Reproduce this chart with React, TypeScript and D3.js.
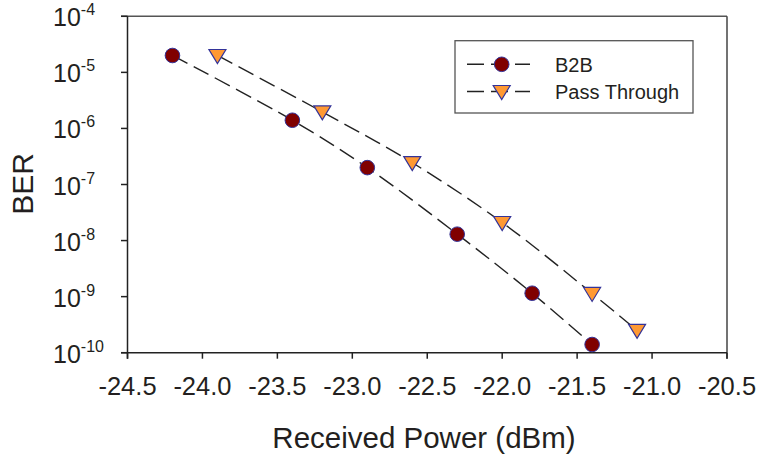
import React from "react";
import * as d3 from "d3";

const b2bX = [-24.2, -23.4, -22.9, -22.3, -21.8, -21.4];
const b2bY = [2e-5, 1.4e-6, 2e-7, 1.3e-8, 1.15e-9, 1.4e-10];
const passX = [-23.9, -23.2, -22.6, -22.0, -21.4, -21.1];
const passY = [2e-5, 1.97e-6, 2.45e-7, 2.1e-8, 1.14e-9, 2.5e-10];
const xTicks = [-24.5, -24.0, -23.5, -23.0, -22.5, -22.0, -21.5, -21.0, -20.5];
const yExps = [-4, -5, -6, -7, -8, -9, -10];
const seriesNames = ["B2B", "Pass Through"];

const W = 759, H = 455;
const L = 127.5, R = 727, T = 16.3, B = 352.7;
const FONT = "'Liberation Sans', Arial, sans-serif";
const TXT = "#231f20";

export default function App() {
  const x = d3.scaleLinear().domain([-24.5, -20.5]).range([L, R]);
  const y = d3.scaleLog().domain([1e-10, 1e-4]).range([B, T]);
  const line = d3
    .line<[number, number]>()
    .x((d) => x(d[0]))
    .y((d) => y(d[1]))
    .curve(d3.curveCatmullRom.alpha(0.5));
  const b2b: [number, number][] = b2bX.map((v, i) => [v, b2bY[i]]);
  const pass: [number, number][] = passX.map((v, i) => [v, passY[i]]);
  const tri = (cx: number, cy: number, w = 17, h = 14) =>
    `M${cx - w / 2},${cy - h / 2 + 1}L${cx + w / 2},${cy - h / 2 + 1}L${cx},${cy + h / 2 + 1}Z`;
  const dash = "17,7";
  const fmt = (t: number) => t.toFixed(1);

  return (
    <svg
      width={W}
      height={H}
      style={{ position: "absolute", left: 0, top: 0, background: "#fff" }}
      fontFamily={FONT}
    >
      {/* frame */}
      <line x1={121} x2={R} y1={T} y2={T} stroke="#555" strokeWidth={1.5} />
      <line x1={R} x2={R} y1={T} y2={B + 6} stroke="#444" strokeWidth={1.5} />
      <line x1={L} x2={L} y1={T} y2={B + 6} stroke="#222" strokeWidth={1.5} />
      <line x1={121} x2={R} y1={B} y2={B} stroke="#222" strokeWidth={1.5} />
      {/* y ticks */}
      {yExps.map((e) => (
        <g key={e}>
          <line x1={121} x2={L} y1={y(Math.pow(10, e))} y2={y(Math.pow(10, e))} stroke="#222" strokeWidth={1.5} />
          <text x={53} y={y(Math.pow(10, e)) + 10} fontSize={25} fill={TXT}>
            10
            <tspan fontSize={16} dy={-11}>{`-${-e}`}</tspan>
          </text>
        </g>
      ))}
      {/* x ticks */}
      {xTicks.map((t) => (
        <g key={t}>
          <line x1={x(t)} x2={x(t)} y1={B} y2={B + 6} stroke="#222" strokeWidth={1.5} />
          <text x={x(t)} y={395} fontSize={25.5} textAnchor="middle" fill={TXT}>
            {fmt(t)}
          </text>
        </g>
      ))}
      {/* axis titles */}
      <text x={424} y={448} fontSize={29.5} textAnchor="middle" fill={TXT}>
        Received Power (dBm)
      </text>
      <text
        transform={`translate(32.5,184) rotate(-90)`}
        fontSize={30}
        textAnchor="middle"
        fill={TXT}
      >
        BER
      </text>
      {/* lines */}
      <path d={line(b2b) || ""} fill="none" stroke="#222" strokeWidth={1.4} strokeDasharray={dash} />
      <path d={line(pass) || ""} fill="none" stroke="#222" strokeWidth={1.4} strokeDasharray={dash} />
      {/* markers */}
      {b2b.map((d, i) => (
        <circle key={i} cx={x(d[0])} cy={y(d[1])} r={7.3} fill="#800000" stroke="#333399" strokeWidth={1} />
      ))}
      {pass.map((d, i) => (
        <path key={i} d={tri(x(d[0]), y(d[1]))} fill="#ff9933" stroke="#333399" strokeWidth={1.2} />
      ))}
      {/* legend */}
      <rect x={455} y={40.7} width={238} height={72.3} fill="#fff" stroke="#555" strokeWidth={1.3} />
      {seriesNames.map((n, i) => {
        const ly = i === 0 ? 64.3 : 91.5;
        return (
          <g key={n}>
            <line x1={467} x2={530} y1={ly} y2={ly} stroke="#222" strokeWidth={1.4} strokeDasharray={dash} />
            {i === 0 ? (
              <circle cx={501.7} cy={ly} r={7.3} fill="#800000" stroke="#333399" strokeWidth={1} />
            ) : (
              <path d={tri(501.7, ly)} fill="#ff9933" stroke="#333399" strokeWidth={1.2} />
            )}
            <text x={555} y={ly + 7.5} fontSize={20} fill={TXT}>
              {n}
            </text>
          </g>
        );
      })}
    </svg>
  );
}
